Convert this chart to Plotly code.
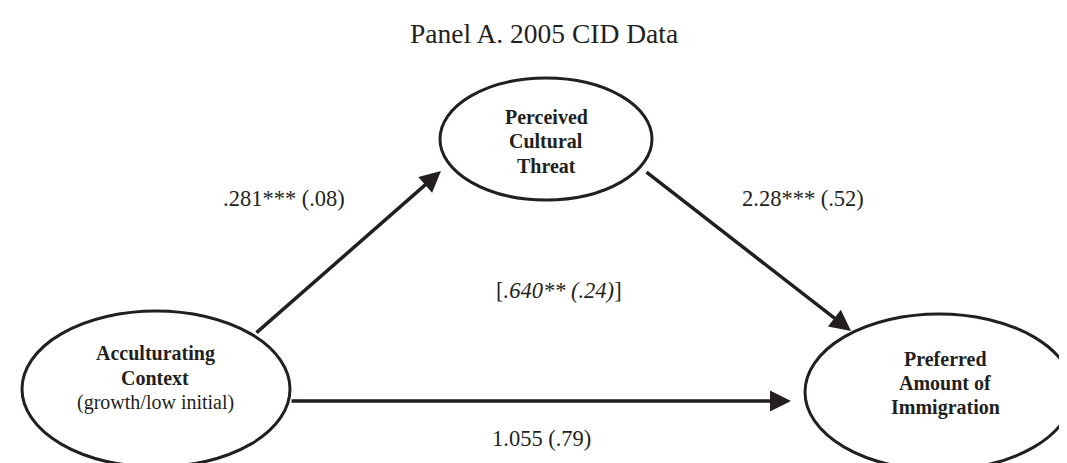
import plotly.graph_objects as go

title_text = "Panel A. 2005 CID Data"
node_names = ["threat", "context", "immigration"]
node_lines = {
    "threat": ["<b>Perceived</b>", "<b>Cultural</b>", "<b>Threat</b>"],
    "context": ["<b>Acculturating</b>", "<b>Context</b>", "(growth/low initial)"],
    "immigration": ["<b>Preferred</b>", "<b>Amount of</b>", "<b>Immigration</b>"],
}
path_from = ["context", "threat", "context"]
path_to = ["threat", "immigration", "immigration"]
path_labels = [".281*** (.08)", "2.28*** (.52)", "1.055 (.79)"]
indirect_label = "[<i>.640** (.24)</i>]"

INK = "#231f20"
FONT = "Liberation Serif"

# layout geometry (pixels)
ellipse = {
    "threat": dict(cx=538, cy=131, rx=106, ry=61, tx=538, ty=133),
    "context": dict(cx=148, cy=381, rx=134, ry=78, tx=147, ty=370),
    "immigration": dict(cx=931, cy=384, rx=134, ry=78, tx=937, ty=375),
}
arrow_geom = [
    dict(tail=(247, 326), tip=(433, 163), lab=(276, 190)),
    dict(tail=(637, 163), tip=(843, 323), lab=(795, 190)),
    dict(tail=(282, 393), tip=(783, 393), lab=(533, 430)),
]

fig = go.Figure()
shapes = []
annotations = []

for name in node_names:
    g = ellipse[name]
    shapes.append(dict(type="circle", xref="x", yref="y",
                       x0=g["cx"] - g["rx"], x1=g["cx"] + g["rx"],
                       y0=g["cy"] - g["ry"], y1=g["cy"] + g["ry"],
                       line=dict(color=INK, width=3), fillcolor="rgba(0,0,0,0)"))
    lines = node_lines[name]
    n = len(lines)
    for i, ln in enumerate(lines):
        annotations.append(dict(x=g["tx"], y=g["ty"] + (i - (n - 1) / 2) * 24.5,
                                xref="x", yref="y", text=ln, showarrow=False,
                                font=dict(family=FONT, size=20, color=INK)))

for i in range(len(path_labels)):
    a = arrow_geom[i]
    annotations.append(dict(x=a["tip"][0], y=a["tip"][1], ax=a["tail"][0], ay=a["tail"][1],
                            xref="x", yref="y", axref="x", ayref="y", text="",
                            showarrow=True, arrowhead=2, arrowsize=1.2, arrowwidth=3.5,
                            arrowcolor=INK, standoff=0, startstandoff=0))
    annotations.append(dict(x=a["lab"][0], y=a["lab"][1], xref="x", yref="y",
                            text=path_labels[i], showarrow=False,
                            font=dict(family=FONT, size=22.5, color=INK)))

annotations.append(dict(x=551, y=282, xref="x", yref="y", text=indirect_label,
                        showarrow=False, font=dict(family=FONT, size=22.5, color=INK)))
annotations.append(dict(x=536, y=25, xref="x", yref="y", text=title_text,
                        showarrow=False, font=dict(family=FONT, size=27.5, color=INK)))

fig.update_layout(
    width=1067, height=463,
    margin=dict(l=0, r=0, t=0, b=0),
    paper_bgcolor="white", plot_bgcolor="white",
    xaxis=dict(range=[0, 1067], visible=False, fixedrange=True),
    yaxis=dict(range=[463, 0], visible=False, fixedrange=True),
    shapes=shapes, annotations=annotations, showlegend=False,
)
fig.write_html("out.html")
